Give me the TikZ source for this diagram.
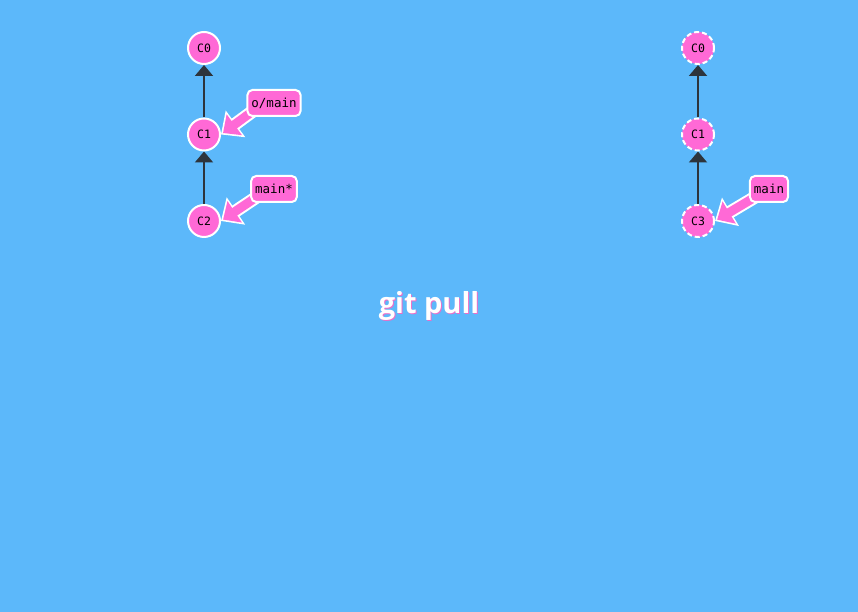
\documentclass[tikz,border=0pt]{standalone}
\usepackage{fontspec}
\setmainfont{Open Sans}
\setmonofont{DejaVu Sans Mono}
\usetikzlibrary{arrows.meta, positioning}
\definecolor{skyblue}{RGB}{92,184,250}
\definecolor{commitpink}{RGB}{255,105,214}
\definecolor{edgegray}{RGB}{45,52,60}
\definecolor{shadowpink}{RGB}{235,110,200}
\pgfdeclarelayer{bg}
\pgfdeclarelayer{links}
\pgfsetlayers{bg,links,main}
\tikzset{
  commit/.style={circle, fill=commitpink, draw=white, line width=2pt, minimum size=32pt, inner sep=0pt, font=\ttfamily\fontsize{11.5}{13}\selectfont},
  ghost/.style={commit, dash pattern=on 5pt off 3pt},
  branch/.style={rectangle, rounded corners=5pt, fill=commitpink, draw=white, line width=2pt, inner xsep=4pt, inner ysep=0pt, minimum height=26pt, font=\ttfamily\fontsize{12.5}{14}\selectfont},
  parent/.style={draw=edgegray, line width=2pt, -{Triangle[length=11pt,width=18pt]}},
  title/.style={font=\bfseries\fontsize{29}{34}\selectfont}
}
\newcommand{\pointto}[2]{%
  \draw[white, line width=13pt, -{Triangle[length=18pt,width=32pt]}] (#1) -- (#2);
  \draw[commitpink, line width=9pt, -{Triangle[length=14pt,width=25pt]}, shorten >=2.5pt] (#1) -- (#2);
}

\begin{document}
\begin{tikzpicture}[x=1pt, y=1pt, node distance=52.5pt]
    \useasboundingbox (0,0) rectangle (858,612);
    \begin{pgfonlayer}{bg}
        \fill[skyblue] (0,0) rectangle (858,612);
    \end{pgfonlayer}

    \node[commit] (c0) at (204,564) {C0};
    \node[commit, below=of c0] (c1) {C1};
    \node[commit, below=of c1] (c2) {C2};
    \node[branch] (omain) at (274,509) {o/main};
    \node[branch] (main) at (274,423) {main*};

    \node[ghost] (r0) at (698,564) {C0};
    \node[ghost, below=of r0] (r1) {C1};
    \node[ghost, below=of r1] (c3) {C3};
    \node[branch] (rmain) at (769,423) {main};

    \coordinate (omainfoot) at ([shift={(8pt,-7pt)}]omain.west);
    \coordinate (mainfoot) at ([shift={(8pt,-7pt)}]main.west);
    \coordinate (rmainfoot) at ([shift={(8pt,-7pt)}]rmain.west);

    \begin{pgfonlayer}{links}
        \draw[parent] (c1) -- (c0);
        \draw[parent] (c2) -- (c1);
        \draw[parent] (r1) -- (r0);
        \draw[parent] (c3) -- (r1);
        \pointto{omainfoot}{c1.east}
        \pointto{mainfoot}{c2.east}
        \pointto{rmainfoot}{c3.east}
    \end{pgfonlayer}

    \node[title, shadowpink] (cmdshadow) at (430,305) {git pull};
    \node[title, white] (cmd) at (429,306) {git pull};
\end{tikzpicture}
\end{document}
